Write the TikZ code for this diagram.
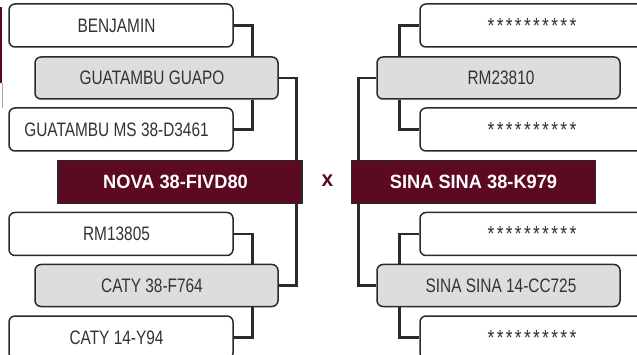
\documentclass[tikz,border=0pt]{standalone}
\usepackage{fontspec}
\setmainfont{Liberation Sans}
\newfontfamily\boxfont{Liberation Sans}[FakeStretch=0.79]
\newfontfamily\tagfont{Liberation Sans}[FakeStretch=0.95]
\usetikzlibrary{positioning, calc}
\definecolor{wine}{HTML}{5C0A22}
\definecolor{pale}{HTML}{DCDDDF}
\definecolor{ink}{HTML}{2A2A2A}
\definecolor{txt}{HTML}{333333}
\tikzset{
  box/.style     ={draw=ink, rounded corners=6pt, line width=1.5pt, inner sep=0pt,
                   text=txt, font=\boxfont\fontsize{19.5}{20}\selectfont},
  Lwhite/.style  ={box, fill=white, minimum width=224, minimum height=43},
  Lgray/.style   ={box, fill=pale, minimum width=243, minimum height=42},
  Ltag/.style    ={draw=ink, fill=wine, line width=1.5pt, inner sep=0pt,
                   minimum width=244, minimum height=43, text=white,
                   font=\tagfont\bfseries\fontsize{19.2}{20}\selectfont},
  toleft/.style  ={execute at begin node={\hspace*{-9pt}}},
  toright/.style ={execute at end node={\hspace*{-5pt}}},
  link/.style    ={ink, line width=2.6pt},
}
\newcommand{\hidden}{{\fontsize{22}{22}\selectfont\foreach \k in {1,...,10}{\makebox[9.1pt]{*}}}}

\begin{document}
\begin{tikzpicture}[x=1pt, y=-1pt]
\useasboundingbox (0,0) rectangle (637,355);
\clip (0,0) rectangle (637,355);

% cut edge on the left
\fill[wine] (0,7) rectangle (2,83);
\draw[black!35, line width=0.8pt] (2.5,83) -- (2.5,108);

% left parent
\node[Ltag, toleft] (nova) at (180,182) {NOVA 38-FIVD80};
\node[Lgray, toleft]  (guapo) at (156.5,78)   {GUATAMBU GUAPO};
\node[Lwhite, toleft] (benj)  at (121,25.5)   {BENJAMIN};
\node[Lwhite, toleft] (gms)   at (121,129.5)  {GUATAMBU MS 38-D3461};
\node[Lgray, toleft]  (caty)  at (156.5,285.5){CATY 38-F764};
\node[Lwhite, toleft] (rmA)   at (121,234)    {RM13805};
\node[Lwhite, toleft] (catyB) at (121,337.5)  {CATY 14-Y94};

\draw[link] (benj.east)  -| ([xshift=-26pt]guapo.north east);
\draw[link] (gms.east)   -| ([xshift=-26pt]guapo.south east);
\draw[link] (guapo.east) -| ([xshift=-6pt]nova.north east);
\draw[link] (rmA.east)   -| ([xshift=-26pt]caty.north east);
\draw[link] (catyB.east) -| ([xshift=-26pt]caty.south east);
\draw[link] (caty.east)  -| ([xshift=-6pt]nova.south east);

\node[text=wine, font=\tagfont\bfseries\fontsize{22}{22}\selectfont] (cross) at (327.5,181) {x};

% right parent
\node[Ltag] (sina) at (473.5,182) {SINA SINA 38-K979};
\node[Lgray, toright] (rmB)   at (498.5,78)   {RM23810};
\node[Lwhite] (s1)    at (532,25.5)   {\hidden};
\node[Lwhite] (s2)    at (532,129.5)  {\hidden};
\node[Lgray, toright] (sinaB) at (498.5,285.5){SINA SINA 14-CC725};
\node[Lwhite] (s3)    at (532,234)    {\hidden};
\node[Lwhite] (s4)    at (532,337.5)  {\hidden};

\draw[link] (s1.west)    -| ([xshift=23pt]rmB.north west);
\draw[link] (s2.west)    -| ([xshift=23pt]rmB.south west);
\draw[link] (rmB.west)   -| ([xshift=8pt]sina.north west);
\draw[link] (s3.west)    -| ([xshift=23pt]sinaB.north west);
\draw[link] (s4.west)    -| ([xshift=23pt]sinaB.south west);
\draw[link] (sinaB.west) -| ([xshift=8pt]sina.south west);

\end{tikzpicture}
\end{document}
